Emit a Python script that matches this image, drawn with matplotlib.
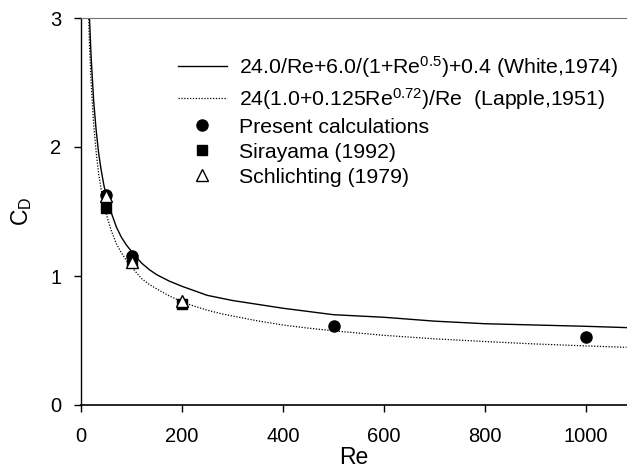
"""Drag coefficient of a sphere vs Re: correlations and data points."""

import matplotlib
matplotlib.use("Agg")
import matplotlib.pyplot as plt
from matplotlib import rcParams

rcParams.update({
    "font.family": ["Liberation Sans", "DejaVu Sans"],
    "mathtext.fontset": "custom",
    "mathtext.rm": "Liberation Sans",
    "mathtext.it": "Liberation Sans:italic",
    "font.size": 14.5,
})

# ---- curves ----
re_curve = [14, 17, 20, 25, 30, 35, 40, 45, 50, 60, 70, 80, 90, 100, 120, 135,
            150, 175, 200, 225, 250, 275, 300, 350, 400, 450, 500, 600, 700,
            800, 900, 1000, 1080]
cd_white = [3.38, 2.98, 2.70, 2.36, 2.13, 1.95, 1.82, 1.71, 1.62, 1.49, 1.38,
            1.30, 1.24, 1.19, 1.10, 1.05, 1.01, 0.96, 0.92, 0.885, 0.85, 0.83,
            0.81, 0.78, 0.75, 0.725, 0.70, 0.68, 0.65, 0.63, 0.62, 0.61, 0.60]
cd_lapple = [3.15, 2.77, 2.50, 2.18, 1.96, 1.79, 1.67, 1.57, 1.48, 1.35, 1.25,
             1.18, 1.12, 1.07, 0.98, 0.935, 0.90, 0.845, 0.80, 0.765, 0.735,
             0.71, 0.69, 0.652, 0.62, 0.596, 0.575, 0.54, 0.513, 0.492, 0.473,
             0.458, 0.447]

# ---- data points ----
re_present = [50, 100, 500, 1000]
cd_present = [1.63, 1.157, 0.612, 0.53]
re_sirayama = [50, 100, 200]
cd_sirayama = [1.53, 1.12, 0.78]
re_schlichting = [50, 100, 200]
cd_schlichting = [1.62, 1.11, 0.81]

fig = plt.figure(figsize=(6.27, 4.72), dpi=100)
ax = fig.add_axes([81 / 627, 67 / 472, 546 / 627, 387 / 472])

ax.plot(re_curve, cd_white, "k-", lw=1.0,
        label="24.0/Re+6.0/(1+Re$^{0.5}$)+0.4 (White,1974)")
ax.plot(re_curve, cd_lapple, color="k", lw=0.9, ls=(0, (1, 1.3)),
        label="24(1.0+0.125Re$^{0.72}$)/Re  (Lapple,1951)")
ax.plot(re_present, cd_present, "o", color="k", ms=8, ls="none",
        label="Present calculations", zorder=3)
ax.plot(re_sirayama, cd_sirayama, "s", color="k", ms=6.5, ls="none",
        label="Sirayama (1992)", zorder=4)
ax.plot(re_schlichting, cd_schlichting, "^", mfc="white", mec="k", mew=1.0,
        ms=8, ls="none", label="Schlichting (1979)", zorder=5)

ax.set_xlim(0, 1081)
ax.set_ylim(0, 3)
ax.set_xticks([0, 200, 400, 600, 800, 1000])
ax.set_yticks([0, 1, 2, 3])
ax.tick_params(axis="x", direction="out", length=5, width=1, pad=11)
ax.tick_params(axis="y", direction="out", length=5, width=1, pad=9)
ax.spines["right"].set_visible(False)
ax.spines["top"].set_color("0.45")
ax.spines["left"].set_linewidth(1.0)
ax.spines["bottom"].set_linewidth(1.2)

ax.set_xlabel("Re", fontsize=16.5, labelpad=0)
ax.set_ylabel("C$_\\mathregular{D}$", fontsize=16.5, labelpad=12)

ax.legend(loc="upper left", bbox_to_anchor=(178 / 627, 1 - 54 / 472),
          bbox_transform=fig.transFigure, frameon=False, borderpad=0,
          borderaxespad=0, handlelength=2.3, handletextpad=0.55,
          labelspacing=0.28, fontsize=15.3)

fig.savefig("out.png", dpi=100)
